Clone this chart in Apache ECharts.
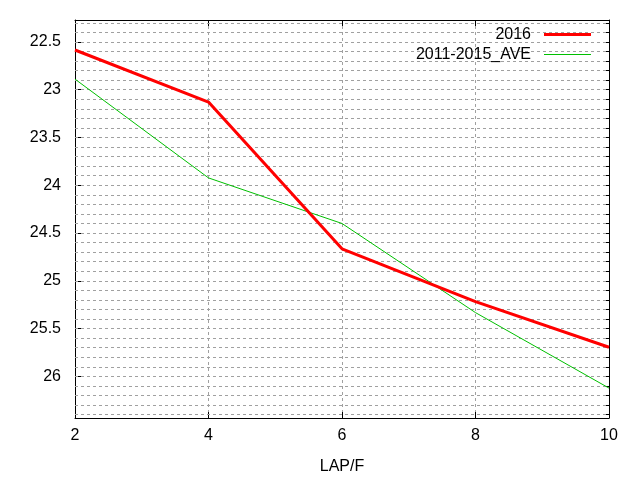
<!DOCTYPE html>
<html>
<head>
<meta charset="utf-8">
<script src="https://cdn.jsdelivr.net/npm/echarts@6/dist/echarts.min.js"></script>
<style>
html,body{margin:0;padding:0;background:#fff;}
#chart{width:640px;height:480px;}
</style>
</head>
<body>
<div id="chart"></div>
<script>
const xValues = [2, 4, 6, 8, 10];
const series2016 = [22.584, 23.129, 24.665, 25.218, 25.695];
const seriesAve = [22.889, 23.923, 24.400, 25.333, 26.123];
const seriesNames = ['2016', '2011-2015_AVE'];
const xTicks = [2, 4, 6, 8, 10];
const yMajorTicks = [22.5, 23, 23.5, 24, 24.5, 25, 25.5, 26];
const yRange = [22.27, 26.436];
const yMinorStep = 0.1;

const yGrid = [];
for (let v = 22.3; v < yRange[1]; v += yMinorStep) yGrid.push(Math.round(v * 10) / 10);
const yMinor = yGrid.filter(v => yMajorTicks.indexOf(v) < 0);

const FONT = 'Liberation Sans';
const FS = 16;
const gridColor = '#a0a0a0';

function yAx(pos, ticks, len, showLine, showLabel) {
  return {
    type: 'value', position: pos, inverse: true,
    min: yRange[0], max: yRange[1],
    axisLine: {show: showLine, onZero: false, lineStyle: {color: '#000', width: 1}},
    axisTick: {show: true, inside: true, length: len, customValues: ticks, lineStyle: {color: '#000', width: 1}},
    axisLabel: {show: showLabel, customValues: ticks, margin: 14, color: '#000', fontFamily: FONT, fontSize: FS},
    splitLine: {show: false}
  };
}

const chart = echarts.init(document.getElementById('chart'), null, {renderer: 'canvas'});
chart.setOption({
  animation: false,
  backgroundColor: '#fff',
  grid: {left: 75, right: 31, top: 20, bottom: 61, containLabel: false},
  legend: [
    {data: [seriesNames[0]], right: 49, top: 26.5, padding: 0, orient: 'vertical', align: 'right', icon: 'rect',
     itemWidth: 47, itemHeight: 3, selectedMode: false,
     textStyle: {fontFamily: FONT, fontSize: FS, color: '#000', padding: [0, 8, 0, 0]}},
    {data: [seriesNames[1]], right: 49, top: 46.5, padding: 0, orient: 'vertical', align: 'right', icon: 'rect',
     itemWidth: 47, itemHeight: 1, selectedMode: false,
     textStyle: {fontFamily: FONT, fontSize: FS, color: '#000', padding: [0, 8, 0, 0]}}
  ],
  xAxis: [
    {type: 'value', position: 'bottom', min: 2, max: 10, interval: 2,
     name: 'LAP/F', nameLocation: 'middle', nameGap: 41,
     nameTextStyle: {fontFamily: FONT, fontSize: FS, color: '#000'},
     axisLine: {show: true, onZero: false, lineStyle: {color: '#000', width: 1}},
     axisTick: {show: true, inside: true, length: 6, lineStyle: {color: '#000'}},
     axisLabel: {margin: 10, color: '#000', fontFamily: FONT, fontSize: FS},
     splitLine: {show: true, lineStyle: {color: gridColor, type: [3, 3], width: 1}}},
    {type: 'value', position: 'top', min: 2, max: 10, interval: 2,
     axisLine: {show: true, onZero: false, lineStyle: {color: '#000', width: 1}},
     axisTick: {show: true, inside: true, length: 6, lineStyle: {color: '#000'}},
     axisLabel: {show: false},
     splitLine: {show: false}}
  ],
  yAxis: [
    yAx('left', yMajorTicks, 6, true, true),
    yAx('left', yMinor, 3, false, false),
    yAx('right', yMajorTicks, 6, true, false),
    yAx('right', yMinor, 3, false, false)
  ],
  series: [
    {name: seriesNames[0], type: 'line', xAxisIndex: 0, yAxisIndex: 0,
     data: xValues.map((x, i) => [x, series2016[i]]),
     showSymbol: false, symbol: 'none', color: '#ff0000', z: 3,
     lineStyle: {color: '#ff0000', width: 3},
     markLine: {silent: true, symbol: 'none', z: 1, animation: false,
       label: {show: false}, emphasis: {disabled: true},
       lineStyle: {color: gridColor, type: [3, 3], width: 1},
       data: yGrid.map(v => ({yAxis: v}))}},
    {name: seriesNames[1], type: 'line', xAxisIndex: 0, yAxisIndex: 0,
     data: xValues.map((x, i) => [x, seriesAve[i]]),
     showSymbol: false, symbol: 'none', color: '#00c000', z: 2,
     lineStyle: {color: '#00c000', width: 1}}
  ]
});
</script>
</body>
</html>
